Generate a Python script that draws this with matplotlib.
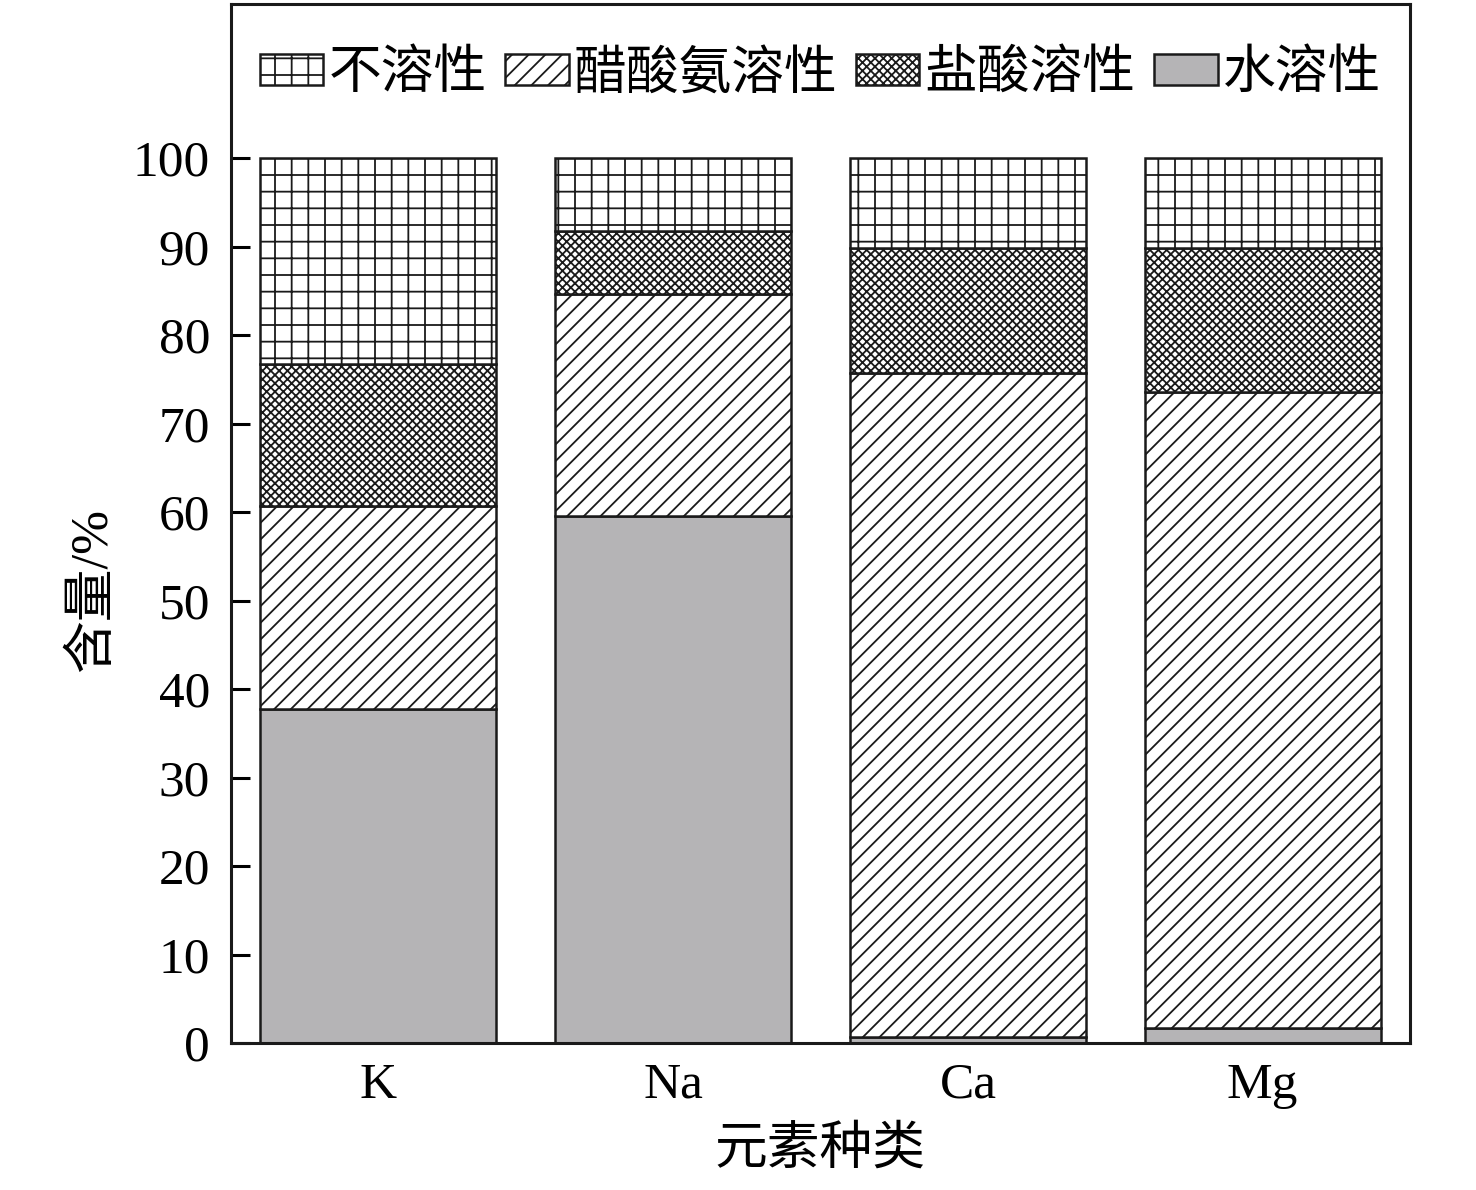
import matplotlib
matplotlib.use("Agg")
import matplotlib.pyplot as plt
import numpy as np

plt.rcParams['font.family'] = ['Liberation Serif', 'Noto Sans CJK SC']
plt.rcParams['hatch.linewidth'] = 1.3

categories = ['K', 'Na', 'Ca', 'Mg']
water = [37.8, 59.6, 0.7, 1.7]
acetate = [22.9, 25.0, 75.0, 71.9]
hcl = [16.0, 7.1, 14.1, 16.2]
insoluble = [23.3, 8.3, 10.2, 10.2]
series_names = ['不溶性', '醋酸氨溶性', '盐酸溶性', '水溶性']
yticks = [0, 10, 20, 30, 40, 50, 60, 70, 80, 90, 100]

fig = plt.figure(figsize=(14.76, 11.90), dpi=100)
ax = fig.add_axes([0.1565, 0.1235, 0.7988, 0.8731])

x = np.arange(len(categories))
w = 0.8
ec = '#1a1a1a'
b_water = ax.bar(x, water, w, color='#b5b4b6', edgecolor=ec, linewidth=1.8, label=series_names[3])
bottom1 = np.array(water)
b_ac = ax.bar(x, acetate, w, bottom=bottom1, color='white', edgecolor=ec, linewidth=1.8,
              hatch='//', label=series_names[1])
bottom2 = bottom1 + np.array(acetate)
b_hcl = ax.bar(x, hcl, w, bottom=bottom2, color='white', edgecolor=ec, linewidth=1.8,
               hatch='xxxx', label=series_names[2])
bottom3 = bottom2 + np.array(hcl)
b_ins = ax.bar(x, insoluble, w, bottom=bottom3, color='white', edgecolor=ec, linewidth=1.8,
               hatch='+', label=series_names[0])

ax.set_xlim(-0.5, 3.5)
ax.set_ylim(0, 117.4)
ax.set_xticks(x)
ax.set_xticklabels(categories)
ax.set_yticks(yticks)
ax.tick_params(axis='y', direction='in', length=14, width=2.2, labelsize=37, pad=15)
ax.tick_params(axis='x', length=0, labelsize=37, pad=14)
for s in ax.spines.values():
    s.set_linewidth(2.2)
    s.set_color('#1a1a1a')

ax.set_xlabel('元素种类', fontsize=38)
ax.set_ylabel('含量/%', fontsize=38)
ax.xaxis.set_label_coords(0.4996, -0.080)
ax.yaxis.set_label_coords(-0.097, 0.436)

leg = ax.legend(handles=[b_ins, b_ac, b_hcl, b_water], labels=series_names, ncol=4,
                loc='center', bbox_to_anchor=(0.5, 0.932), frameon=False,
                fontsize=38, handlelength=1.2, handleheight=0.53, handletextpad=0.1,
                columnspacing=0.35, borderaxespad=0.0, borderpad=0.0)

fig.savefig('out.png', dpi=100)
